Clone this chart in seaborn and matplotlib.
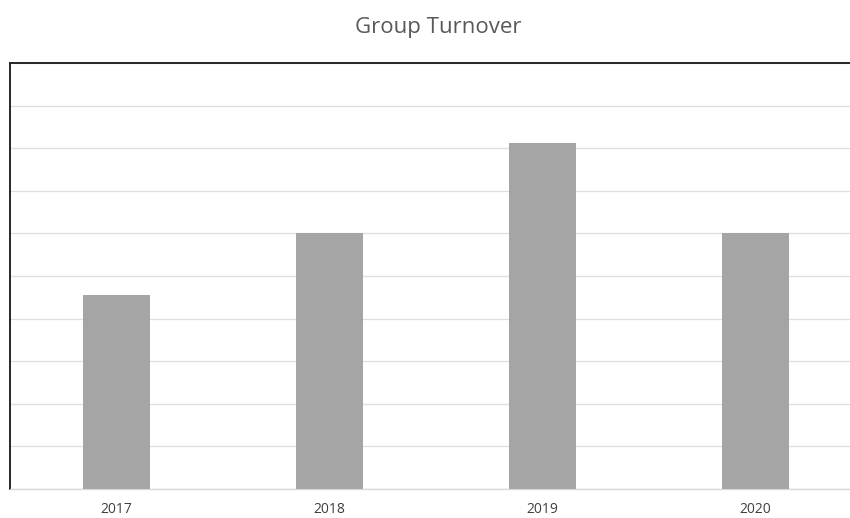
import matplotlib
matplotlib.use("Agg")
import matplotlib.pyplot as plt
import seaborn as sns
import pandas as pd

years = ["2017", "2018", "2019", "2020"]
turnover = [4.55, 6.0, 8.12, 6.0]

df = pd.DataFrame({"year": years, "turnover": turnover})

sns.set_theme(style="white")
plt.rcParams["font.family"] = ["Open Sans", "DejaVu Sans"]

fig = plt.figure(figsize=(8.5, 5.18), dpi=100)
ax = fig.add_axes([10 / 850, 29 / 518, 852 / 850, 426 / 518])

sns.barplot(data=df, x="year", y="turnover", color="#a5a5a5", width=0.31,
            saturation=1, linewidth=0, ax=ax, zorder=3)

ax.set_ylim(0, 10)
ax.set_xlim(-0.5, 3.5)
ax.set_yticks(range(0, 11))
ax.set_yticklabels([])
ax.tick_params(axis="y", length=0)
ax.tick_params(axis="x", length=0, labelsize=10, colors="#404040", pad=9.5)
ax.yaxis.grid(True, color="#dedede", linewidth=0.9)
ax.set_axisbelow(True)
ax.set_xlabel("")
ax.set_ylabel("")

for side in ["top", "left"]:
    ax.spines[side].set_visible(True)
    ax.spines[side].set_color("#262626")
    ax.spines[side].set_linewidth(1.4)
ax.spines["right"].set_visible(False)
ax.spines["bottom"].set_color("#d9d9d9")
ax.spines["bottom"].set_linewidth(1)

fig.text(438 / 850, 1 - 27 / 518, "Group Turnover", ha="center", va="center",
         fontsize=16, color="#595959")

fig.savefig("out.png", dpi=100)
